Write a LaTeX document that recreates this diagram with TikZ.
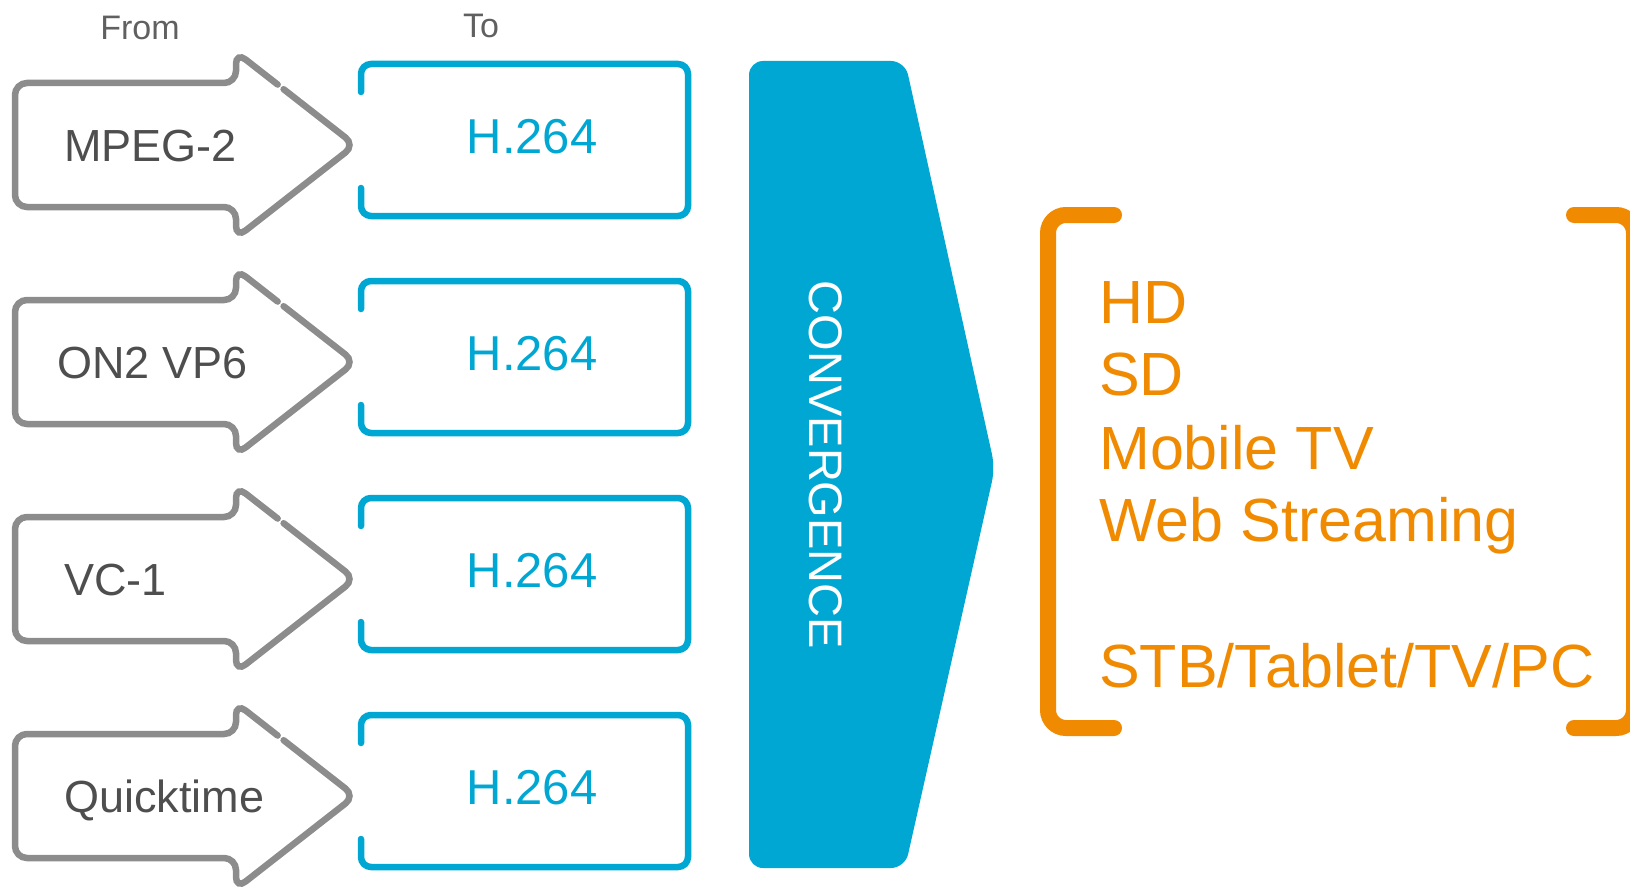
\documentclass[tikz,border=0pt]{standalone}
\usepackage{fontspec}
\setmainfont{Liberation Sans}
\usetikzlibrary{calc}
\definecolor{cblue}{RGB}{0,167,211}
\definecolor{cgray}{RGB}{140,140,140}
\definecolor{ctext}{RGB}{78,78,78}
\definecolor{corange}{RGB}{240,138,0}
\tikzset{
  boxline/.style={draw=cblue, line width=6.5pt, line cap=round, rounded corners=10pt},
  arrowline/.style={draw=cgray, line width=6.5pt, line cap=round, rounded corners=12pt},
  bracketline/.style={draw=corange, line width=16pt, line cap=round, rounded corners=18pt},
  srclabel/.style={anchor=base west, inner sep=0pt, text=ctext, font=\fontsize{45}{54}\selectfont},
  dstlabel/.style={anchor=base, inner sep=0pt, text=cblue, font=\fontsize{49}{58}\selectfont},
  headlabel/.style={anchor=base, inner sep=0pt, text=ctext!90, font=\fontsize{34}{40}\selectfont},
  outlabel/.style={anchor=base west, inner sep=0pt, text=corange, font=\fontsize{61}{72}\selectfont},
}
\begin{document}
\begin{tikzpicture}[x=1pt,y=-1pt]
\useasboundingbox (0,0) rectangle (1630,888);

\node[headlabel] (from) at (140,40) {From};
\node[headlabel] (to) at (481,38) {To};

\foreach \i/\lab/\lx in {0/MPEG-2/64, 1/ON2 VP6/57, 2/VC-1/64, 3/Quicktime/64} {
  \pgfmathsetmacro\c{140+217*\i}
  \pgfmathsetmacro\t{\c+5}
  % H.264 box (open on the left)
  \draw[boxline] ({361},{\c-48}) -- ({361},{\c-76}) -- ({688},{\c-76}) -- ({688},{\c+76}) -- ({361},{\c+76}) -- ({361},{\c+48});
  \node[dstlabel] (dst\i) at ({532},{\c+13.5}) {H.264};
  % block arrow with a small gap in its upper diagonal
  \coordinate (ht\i) at ({236},{\t-93});
  \coordinate (tip\i) at ({355},{\t});
  \draw[arrowline] ($(ht\i)!0.40!(tip\i)$) -- (tip\i) -- ({236},{\t+93}) -- ({236},{\t+62}) -- ({15},{\t+62}) -- ({15},{\t-62}) -- ({236},{\t-62}) -- (ht\i) -- ($(ht\i)!0.35!(tip\i)$);
  \node[srclabel] (src\i) at ({\lx},{\t+16}) {\lab};
}

% convergence chevron
\fill[cblue, rounded corners=14pt] (749,61) -- (905,61) -- (995,468) -- (905,868) -- (749,868) -- cycle;
\node[rotate=-90, text=white, inner sep=0pt, font=\fontsize{47}{56}\selectfont] (conv) at (826,465) {CONVERGENCE};

% orange brackets
\draw[bracketline] (1114,215) -- (1048,215) -- (1048,728) -- (1114,728);
\draw[bracketline] (1574,215) -- (1634,215) -- (1634,728) -- (1574,728);

\node[outlabel] (hd) at (1099,323) {HD};
\node[outlabel] (sd) at (1099,395.5) {SD};
\node[outlabel] (mob) at (1099,469.5) {Mobile TV};
\node[outlabel] (web) at (1099,541.5) {Web Streaming};
\node[outlabel] (stb) at (1099,687.5) {STB/Tablet/TV/PC};
\end{tikzpicture}
\end{document}
